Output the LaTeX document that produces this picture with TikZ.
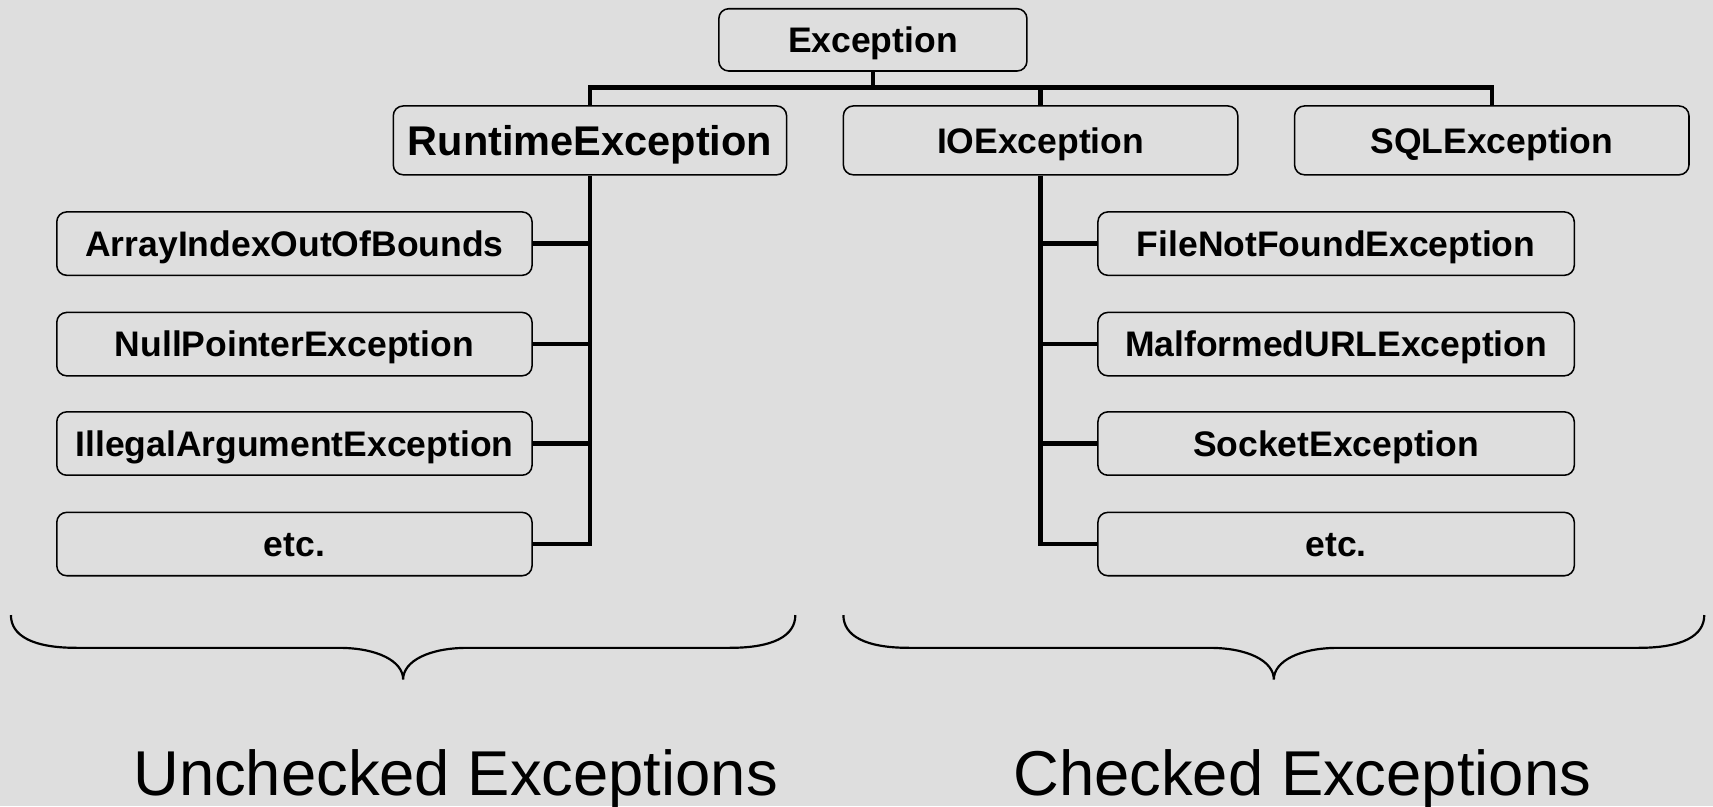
\documentclass[tikz,border=0pt]{standalone}
\usepackage{fontspec}
\setmainfont{Liberation Sans}
\definecolor{bgc}{RGB}{222,222,222}
\begin{document}
\begin{tikzpicture}[x=1pt,y=-1pt,
  cls/.style={draw=black, line width=1.4pt, rounded corners=9pt, inner sep=0pt,
    text height=23.3pt, text depth=-1pt,
    font=\bfseries\fontsize{32.5}{36}\selectfont},
  big/.style={text height=27.2pt, text depth=-1pt, font=\bfseries\fontsize{38}{42}\selectfont},
  link/.style={line width=4pt},
  bracepath/.style={line width=2pt},
  group/.style={font=\fontsize{58}{62}\selectfont, anchor=base, inner sep=0pt}]
\fill[bgc] (0,0) rectangle (1568,738);
\useasboundingbox (0,0) rectangle (1568,738);

% root
\node[cls, minimum width=282pt, minimum height=57pt] (exc) at (799,36.5) {Exception};

% second level
\node[cls, big, minimum width=360pt, minimum height=63pt] (rt) at (540,128.5) {RuntimeException};
\node[cls, minimum width=361pt, minimum height=63pt] (io) at (952.5,128.5) {IOException};
\node[cls, minimum width=361pt, minimum height=63pt] (sql) at (1365.5,128.5) {SQLException};

% unchecked subclasses
\node[cls, minimum width=435pt, minimum height=58pt] (l1) at (269.5,223) {ArrayIndexOutOfBounds};
\node[cls, minimum width=435pt, minimum height=58pt] (l2) at (269.5,315) {NullPointerException};
\node[cls, minimum width=435pt, minimum height=58pt] (l3) at (269.5,406) {IllegalArgumentException};
\node[cls, minimum width=435pt, minimum height=58pt] (l4) at (269.5,498) {etc.};

% checked subclasses
\node[cls, minimum width=436pt, minimum height=58pt] (r1) at (1223,223) {FileNotFoundException};
\node[cls, minimum width=436pt, minimum height=58pt] (r2) at (1223,315) {MalformedURLException};
\node[cls, minimum width=436pt, minimum height=58pt] (r3) at (1223,406) {SocketException};
\node[cls, minimum width=436pt, minimum height=58pt] (r4) at (1223,498) {etc.};

% bus under the root
\coordinate (bus) at (0,80);
\draw[link] (exc.south) -- (exc.south |- bus);
\draw[link] (rt.north) -- (rt.north |- bus) -- (sql.north |- bus) -- (sql.north);
\draw[link] (io.north) -- (io.north |- bus);

% left trunk
\draw[link] (rt.south) -- (rt.south |- l4.east) -- (l4.east);
\foreach \n in {l1,l2,l3} \draw[link] (\n.east) -- (\n.east -| rt.south);

% right trunk
\draw[link] (io.south) -- (io.south |- r4.west) -- (r4.west);
\foreach \n in {r1,r2,r3} \draw[link] (\n.west) -- (\n.west -| io.south);

% braces
\draw[bracepath] (10,563) .. controls (10,582) and (30,593) .. (70,593)
  -- (310,593) .. controls (345,593) and (369,605) .. (369,622)
  .. controls (369,605) and (393,593) .. (428,593)
  -- (668,593) .. controls (708,593) and (728,582) .. (728,563);
\draw[bracepath] (772,563) .. controls (772,582) and (792,593) .. (832,593)
  -- (1107,593) .. controls (1142,593) and (1166,605) .. (1166,622)
  .. controls (1166,605) and (1190,593) .. (1225,593)
  -- (1500,593) .. controls (1540,593) and (1560,582) .. (1560,563);

% group labels
\node[group] (unc) at (417,728) {Unchecked Exceptions};
\node[group] (chk) at (1192,728) {Checked Exceptions};
\end{tikzpicture}
\end{document}
